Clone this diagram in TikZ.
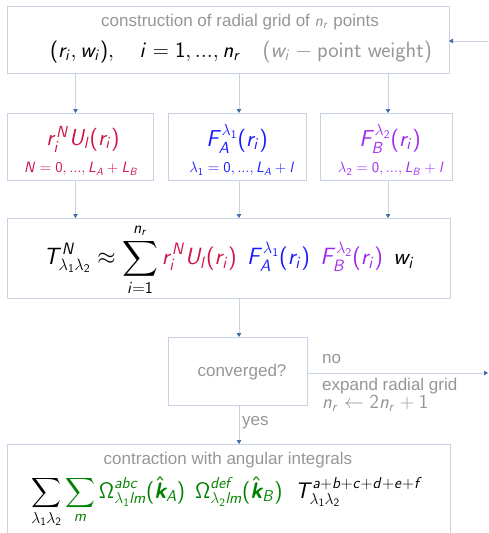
\RequirePackage{fix-cm}
\documentclass[tikz,border=0pt]{standalone}
\usepackage{amsmath}
\usepackage[no-math]{fontspec}
\setmainfont{Liberation Sans}
\newfontfamily\lmsansfam{Latin Modern Sans}
\usetikzlibrary{arrows.meta}
\DeclareSymbolFont{sfital}{OT1}{cmss}{m}{sl}
\SetSymbolFont{operators}{normal}{OT1}{cmss}{m}{n}
\makeatletter
\def\sfdecl#1{\DeclareMathSymbol{#1}{\mathalpha}{sfital}{`#1}}
\@tfor\x:=abcdefghijklmnopqrstuvwxyzABCDEFGHIJKLMNOPQRSTUVWXYZ\do{\expandafter\sfdecl\x}
\makeatother
\newcommand{\kvec}{\text{\lmsansfam\bfseries\itshape k}}
\definecolor{txtgray}{RGB}{150,150,150}
\definecolor{boxline}{RGB}{200,212,230}
\definecolor{linecol}{RGB}{200,212,230}
\definecolor{tipcol}{RGB}{60,100,170}
\definecolor{cred}{RGB}{205,20,70}
\definecolor{cblue}{RGB}{25,25,255}
\definecolor{cpurple}{RGB}{160,40,240}
\definecolor{cgreen}{RGB}{0,128,0}
\tikzset{
  box/.style={draw=boxline, line width=0.9pt, inner sep=0pt, outer sep=0pt},
  gtext/.style={text=txtgray, font=\fontsize{17}{19}\selectfont, inner sep=0pt},
  bigmath/.style={font=\fontsize{23.5}{26}\selectfont, inner sep=0pt},
  botmath/.style={font=\fontsize{22.5}{25}\selectfont, inner sep=0pt},
  topmathf/.style={font=\fontsize{22}{24}\selectfont, inner sep=0pt},
  growmath/.style={font=\fontsize{20}{22}\selectfont, inner sep=0pt},
  rowmath/.style={font=\fontsize{23}{26}\selectfont, inner sep=0pt},
  submath/.style={font=\fontsize{15}{17}\selectfont, inner sep=0pt},
  conn/.style={draw=linecol, line width=0.6pt, -{Triangle[length=4pt,width=4.5pt,color=tipcol]}}
}
\begin{document}
\begin{tikzpicture}[x=1pt,y=-1pt]
\clip (0,0) rectangle (488,533);
% boxes
\node[box, minimum width=442pt, minimum height=67pt] (top) at (228,39.5) {};
\node[box, minimum width=146pt, minimum height=67pt] (b1) at (80,146.5) {};
\node[box, minimum width=138pt, minimum height=67pt] (b2) at (237,146.5) {};
\node[box, minimum width=132pt, minimum height=67pt] (b3) at (386,146.5) {};
\node[box, minimum width=443pt, minimum height=80pt] (main) at (228.5,258) {};
\node[box, minimum width=139pt, minimum height=68pt] (conv) at (237.5,371) {};
\node[box, minimum width=443pt, minimum height=116pt] (bot) at (228.5,502) {};
% x positions of the vertical connectors
\coordinate (xa) at (75.5,0);
\coordinate (xb) at (239,0);
\coordinate (xc) at (388,0);
\coordinate (loopA) at (488,41);
\coordinate (loopB) at (488,373);
% texts
\node[gtext] (title) at (240,22) {construction of radial grid of $n_r$ points};
\node[topmathf] (topmath) at (241,52) {$(r_i, w_i),\quad i = 1, ..., n_r \quad {\color{txtgray}(w_i - \mathrm{point\ weight})}$};
\node[rowmath, text=cred] (f1) at (83,139) {$r_i^N U_l(r_i)$};
\node[submath, text=cred] (s1) at (81,169) {$N = 0, ..., L_A + L_B$};
\node[rowmath, text=cblue] (f2) at (237,139) {$F_A^{\lambda_1}(r_i)$};
\node[submath, text=cblue] (s2) at (242,169) {$\lambda_1 = 0, ..., L_A + l$};
\node[rowmath, text=cpurple] (f3) at (390,139) {$F_B^{\lambda_2}(r_i)$};
\node[submath, text=cpurple] (s3) at (391,169) {$\lambda_2 = 0, ..., L_B + l$};
\node[bigmath] (mainf) at (229,260) {$\displaystyle T^N_{\lambda_1\lambda_2} \approx \sum_{i=1}^{n_r} {\color{cred} r_i^N U_l(r_i)}\;\, {\color{cblue} F_A^{\lambda_1}(r_i)}\;\, {\color{cpurple} F_B^{\lambda_2}(r_i)}\;\, w_i$};
\node[gtext] (convt) at (242,372) {converged?};
\node[gtext, anchor=west] (no) at (322,359) {no};
\node[gtext, anchor=west] (expand) at (322,386) {expand radial grid};
\node[growmath, text=txtgray, anchor=west] (grow) at (322,403) {$n_r \leftarrow 2n_r + 1$};
\node[gtext, anchor=west] (yes) at (242,423) {yes};
\node[gtext] (contr) at (228,460) {contraction with angular integrals};
\node[botmath] (botf) at (227,502) {$\displaystyle \sum_{\lambda_1\lambda_2} {\color{cgreen}\sum_m \Omega^{abc}_{\lambda_1 lm}(\hat{\kvec}_A)\;\, \Omega^{def}_{\lambda_2 lm}(\hat{\kvec}_B)}\;\; T^{a+b+c+d+e+f}_{\lambda_1\lambda_2}$};
% connectors
\draw[conn] (top.south -| xa) -- (b1.north -| xa);
\draw[conn] (top.south -| xb) -- (b2.north -| xb);
\draw[conn] (top.south -| xc) -- (b3.north -| xc);
\draw[conn] (b1.south -| xa) -- (main.north -| xa);
\draw[conn] (b2.south -| xb) -- (main.north -| xb);
\draw[conn] (b3.south -| xc) -- (main.north -| xc);
\draw[conn] (main.south -| xb) -- (conv.north -| xb);
\draw[conn] (conv.south -| xb) -- (bot.north -| xb);
\draw[conn] (conv.east |- loopB) -- (loopB);
\draw[conn] (loopA) -- (top.east |- loopA);
\end{tikzpicture}
\end{document}
